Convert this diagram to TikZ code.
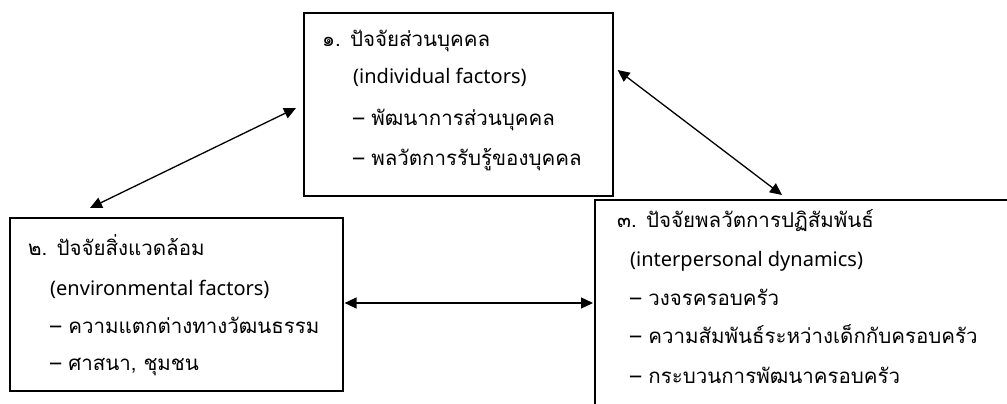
\documentclass[tikz,border=0pt]{standalone}
\usepackage{fontspec}
\setmainfont[Script=Thai]{Loma}
\newfontfamily\latinfont{Noto Sans}
\usetikzlibrary{arrows.meta,calc}
\begin{document}
\begin{tikzpicture}[x=1pt,y=-1pt,
  box/.style={draw=black,line width=1.6pt,rectangle,inner sep=0pt,anchor=north west},
  txt/.style={anchor=base west,inner sep=0pt,font=\fontsize{20.5}{24}\selectfont},
  lat/.style={anchor=base west,inner sep=0pt,font=\latinfont\fontsize{20}{24}\selectfont},
  conn/.style={line width=1.3pt,{Triangle[length=12pt,width=11pt]}-{Triangle[length=12pt,width=11pt]}}]
\useasboundingbox (0,0) rectangle (1007,404);
\clip (0,0) rectangle (1007,404);
\fill[white] (0,0) rectangle (1007,404);
% boxes
\node[box,minimum width=309pt,minimum height=183pt] (b1) at (303,12) {};
\node[box,minimum width=333pt,minimum height=173pt] (b2) at (9,217) {};
\node[box,minimum width=430pt,minimum height=230pt] (b3) at (594,199) {};
% box 1 text
\node[txt] (t11) at (322,47) {๑. ปัจจัยส่วนบุคคล};
\node[lat] (t12) at (353,84) {(individual factors)};
\node[txt] (t13) at (353,125) {– พัฒนาการส่วนบุคคล};
\node[txt] (t14) at (353,165) {– พลวัตการรับรู้ของบุคคล};
% box 2 text
\node[txt] (t21) at (28,255) {๒. ปัจจัยสิ่งแวดล้อม};
\node[lat] (t22) at (50,295) {(environmental factors)};
\node[txt] (t23) at (50,333) {– ความแตกต่างทางวัฒนธรรม};
\node[txt] (t24) at (50,370) {– ศาสนา, ชุมชน};
% box 3 text
\node[txt] (t31) at (617,227) {๓. ปัจจัยพลวัตการปฏิสัมพันธ์};
\node[lat] (t32) at (630,266) {(interpersonal dynamics)};
\node[txt] (t33) at (630,305) {– วงจรครอบครัว};
\node[txt] (t34) at (630,343) {– ความสัมพันธ์ระหว่างเด็กกับครอบครัว};
\node[txt] (t35) at (630,383) {– กระบวนการพัฒนาครอบครัว};
% connector end points
\coordinate (a1s) at ($(b2.north west)+(81,-9)$);
\coordinate (a1e) at ($(b1.north west)+(-7,96)$);
\coordinate (a2s) at ($(b1.north east)+(4,58)$);
\coordinate (a2e) at ($(b3.north west)+(188,-4)$);
\coordinate (a3s) at ($(b2.north east)+(1,86)$);
\coordinate (a3e) at ($(b3.north west)+(-1,104)$);
\draw[conn] (a1s) -- (a1e);
\draw[conn] (a2s) -- (a2e);
\draw[conn] (a3s) -- (a3e);
\end{tikzpicture}
\end{document}
